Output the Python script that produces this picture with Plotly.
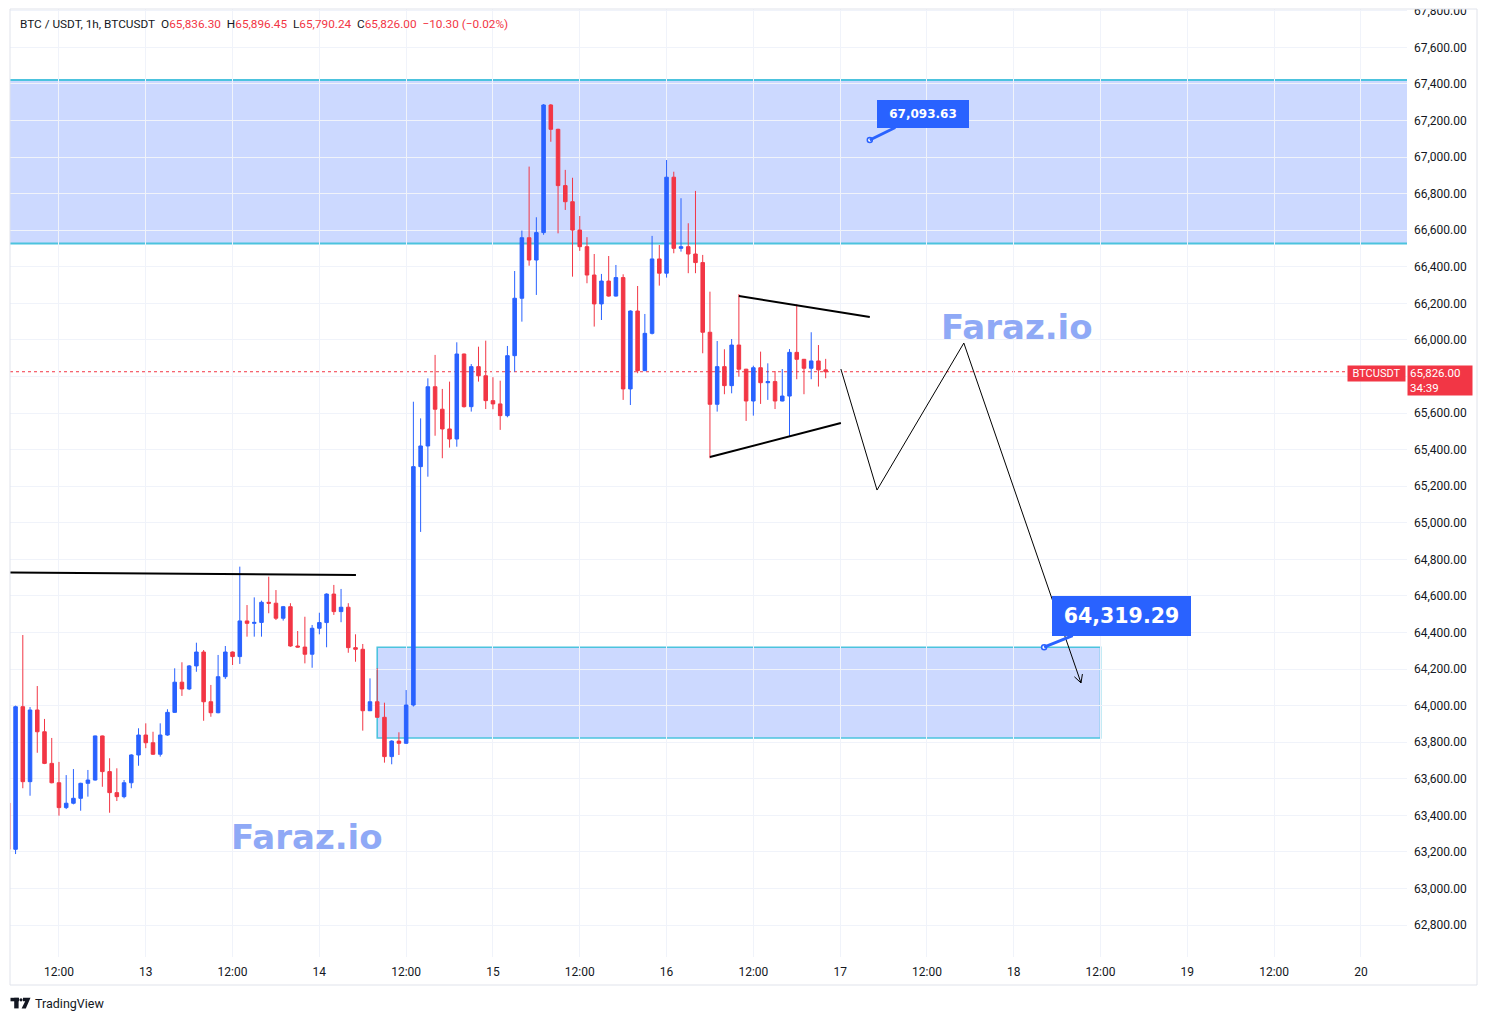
import plotly.graph_objects as go
import pandas as pd
import math

# ---------------- data (hourly BTCUSDT candles, 12th 05:00 -> 16th 22:00) ----------------
opens = [
    63467, 63214, 63994, 63584, 63976, 63857, 63684, 63578, 63442, 63466, 63493, 63575, 63593, 63834, 63639, 63524, 63502, 63578, 63730,
    63839, 63797, 63734, 63839, 63963, 64128, 64091, 64217, 64293, 64021, 63961, 64158, 64293, 64268, 64463, 64450, 64455, 64565, 64560, 64478, 64541, 64326, 64320, 64281,
    64423, 64454, 64610, 64514, 64538, 64317, 64308, 63972, 64021, 63936, 63721, 63806, 63794, 64003, 65307, 65420, 65744, 65621, 65513, 65458, 65923, 65635, 65854, 65804,
    65668, 65650, 65586, 65914, 66228, 66559, 66437, 66587, 67285, 67152, 66844, 66756, 66601, 66510, 66355, 66197, 66322, 66240, 66341, 65732, 66158, 65832, 66036, 66443,
    66365, 66890, 66501, 66510, 66470, 66423, 66042, 65648, 65854, 65750, 65972, 65840, 65666, 65848, 65766, 65772, 65666, 65693, 65932, 65894, 65845, 65885, 65836.30,
]
highs = [
    63480, 64000, 64386, 63992, 64107, 63927, 63823, 63692, 63620, 63653, 63578, 63648, 63836, 63836, 63712, 63657, 63593, 63734, 63876,
    63903, 63857, 63903, 63980, 64204, 64237, 64222, 64344, 64304, 64113, 64277, 64326, 64296, 64760, 64550, 64592, 64574, 64705, 64632, 64545, 64560, 64408, 64486, 64441,
    64508, 64614, 64660, 64638, 64560, 64390, 64337, 64149, 64204, 64016, 63810, 63854, 64085, 65662, 65571, 65790, 65918, 65732, 65772, 65987, 65925, 65868, 65963, 65996,
    65796, 65777, 65967, 66377, 66598, 66948, 66671, 67290, 67290, 67155, 66930, 66887, 66678, 66562, 66470, 66361, 66459, 66410, 66359, 66162, 66295, 66142, 66569, 66519,
    66984, 66920, 66775, 66638, 66815, 66465, 66264, 65994, 65949, 66005, 66250, 65842, 65859, 65936, 65872, 65830, 65841, 65950, 66195, 65896, 66042, 65972, 65896.45,
]
lows = [
    63200, 63188, 63548, 63507, 63742, 63680, 63575, 63398, 63434, 63460, 63425, 63502, 63590, 63556, 63414, 63478, 63493, 63548, 63671,
    63767, 63730, 63721, 63835, 63960, 64053, 64085, 64185, 63917, 63939, 63958, 64146, 64222, 64228, 64377, 64377, 64377, 64505, 64468, 64465, 64322, 64318, 64231, 64207,
    64390, 64319, 64496, 64456, 64289, 64240, 63863, 63970, 63934, 63688, 63679, 63730, 63790, 63995, 64950, 65252, 65476, 65353, 65411, 65416, 65630, 65608, 65772, 65622,
    65621, 65508, 65577, 65826, 66100, 66406, 66246, 66575, 67084, 66583, 66711, 66346, 66487, 66310, 66073, 66109, 66237, 66237, 65672, 65644, 65818, 65830, 66030, 66297,
    66341, 66474, 66483, 66365, 66365, 65927, 65353, 65608, 65703, 65708, 65799, 65557, 65586, 65650, 65672, 65622, 65664, 65471, 65785, 65703, 65785, 65745, 65790.24,
]
closes = [
    63214, 63994, 63584, 63976, 63857, 63684, 63578, 63442, 63466, 63493, 63575, 63593, 63834, 63639, 63524, 63502, 63578, 63730, 63839,
    63797, 63734, 63839, 63963, 64128, 64091, 64217, 64293, 64021, 63961, 64158, 64293, 64268, 64463, 64450, 64455, 64565, 64560, 64478, 64541, 64326, 64320, 64281, 64423,
    64454, 64610, 64514, 64538, 64317, 64308, 63972, 64021, 63936, 63721, 63806, 63794, 64003, 65307, 65420, 65744, 65621, 65513, 65458, 65923, 65635, 65854, 65804, 65668,
    65650, 65586, 65914, 66228, 66559, 66437, 66587, 67285, 67152, 66844, 66756, 66601, 66510, 66355, 66197, 66322, 66240, 66341, 65732, 66158, 65832, 66036, 66443, 66365,
    66890, 66501, 66510, 66470, 66423, 66042, 65648, 65854, 65750, 65972, 65840, 65666, 65848, 65766, 65772, 65666, 65693, 65932, 65894, 65845, 65885, 65836.30, 65826.00,
]
first_candle = "2024-06-12 05:00"

# x ticks (every 12h)
tick_hours = [0, 12, 24, 36, 48, 60, 72, 84, 96, 108, 120, 132, 144, 156, 168, 180]
tick_labels = ["12:00", "13", "12:00", "14", "12:00", "15", "12:00", "16", "12:00", "17",
               "12:00", "18", "12:00", "19", "12:00", "20"]
price_ticks = list(range(62800, 67801, 200))
hidden_tick = 65800  # covered by the last-price label on the price scale

# drawings (hours relative to 12th 12:00, prices)
resist_h = [-7.5, 41.06]
resist_p = [64728, 64714]
tri_upper_h = [94.0, 112.1]
tri_upper_p = [66240, 66126]
tri_lower_h = [90.0, 108.1]
tri_lower_p = [65360, 65546]
path_h = [108.1, 113.1, 125.1, 141.3]
path_p = [65841, 65179, 65983, 64124]
upper_zone_p = [66528, 67422]
lower_zone_h = [44, 144]
lower_zone_p = [63823, 64319.29]
target_hi_h, target_hi_p, target_hi_txt = 112.1, 67093.63, "67,093.63"
target_lo_h, target_lo_p, target_lo_txt = 136.2, 64319.29, "64,319.29"
last_price = 65826.00

BLUE = "#2962FF"
RED = "#F23645"
CYAN = "#4CC3DE"
FILL = "rgba(41,98,255,0.24)"
TXT = "#131722"
FONT = "Roboto"

# ---------------- axes geometry ----------------
BASE = pd.Timestamp("2024-06-12 12:00")
H0, H1 = -6.77, 186.37
P0, P1 = 62625, 67810
W, H = 1487, 1021
ML, MR, MT, MB = 10, 80, 9, 64
PW, PH = W - ML - MR, H - MT - MB


def T(h):
    return BASE + pd.Timedelta(hours=h)


def to_px(h, p):
    return ML + (h - H0) / (H1 - H0) * PW, MT + (P1 - p) / (P1 - P0) * PH


def from_px(x, y):
    return H0 + (x - ML) / PW * (H1 - H0), P1 - (y - MT) / PH * (P1 - P0)


def paper(x, y):
    return (x - ML) / PW, (MT + PH - y) / PH


times = pd.date_range(first_candle, periods=len(opens), freq="h")

fig = go.Figure()
fig.add_trace(go.Candlestick(
    x=times, open=opens, high=highs, low=lows, close=closes,
    increasing=dict(line=dict(color=BLUE, width=1), fillcolor=BLUE),
    decreasing=dict(line=dict(color=RED, width=1), fillcolor=RED),
    whiskerwidth=0, hoverinfo="skip", showlegend=False,
))

# drawing lines
for hs, ps, wd in [(resist_h, resist_p, 2), (tri_upper_h, tri_upper_p, 2),
                   (tri_lower_h, tri_lower_p, 2), (path_h, path_p, 1)]:
    fig.add_trace(go.Scatter(x=[T(h) for h in hs], y=ps, mode="lines",
                             line=dict(color="#000000", width=wd), hoverinfo="skip",
                             showlegend=False, cliponaxis=True))

# arrow head at end of path (open V)
ex, ey = to_px(path_h[-1], path_p[-1])
sx, sy = to_px(path_h[-2], path_p[-2])
ang = math.atan2(ey - sy, ex - sx)
for s in (1, -1):
    a = ang + math.pi - s * math.radians(28)
    hx, hy = ex + 9 * math.cos(a), ey + 9 * math.sin(a)
    hh, hp = from_px(hx, hy)
    fig.add_trace(go.Scatter(x=[T(path_h[-1]), T(hh)], y=[path_p[-1], hp], mode="lines",
                             line=dict(color="#000000", width=1), hoverinfo="skip",
                             showlegend=False))

# callout dots
fig.add_trace(go.Scatter(x=[T(target_hi_h), T(target_lo_h)], y=[target_hi_p, target_lo_p],
                         mode="markers", marker=dict(size=5, color="white",
                                                     line=dict(color=BLUE, width=1.5)),
                         hoverinfo="skip", showlegend=False))

shapes = []
# upper zone
shapes.append(dict(type="rect", xref="paper", yref="y", x0=0, x1=1,
                   y0=upper_zone_p[0], y1=upper_zone_p[1], fillcolor=FILL,
                   line=dict(width=0), layer="below"))
for p in upper_zone_p:
    shapes.append(dict(type="line", xref="paper", yref="y", x0=0, x1=1, y0=p, y1=p,
                       line=dict(color=CYAN, width=2), layer="below"))
# lower zone
shapes.append(dict(type="rect", xref="x", yref="y", x0=T(lower_zone_h[0]), x1=T(lower_zone_h[1]),
                   y0=lower_zone_p[0], y1=lower_zone_p[1], fillcolor=FILL,
                   line=dict(color=CYAN, width=1.6), layer="below"))
# last price line
shapes.append(dict(type="line", xref="paper", yref="y", x0=0, x1=1, y0=last_price, y1=last_price,
                   line=dict(color=RED, width=1, dash="dot"), layer="below"))
# cover top half of clipped top label
cx0, cy0 = paper(ML + PW, MT)
cx1, cy1 = paper(W, 0)
shapes.append(dict(type="rect", xref="paper", yref="paper", x0=cx0, x1=cx1, y0=cy0, y1=cy1,
                   fillcolor="white", line=dict(width=0), layer="above"))
# outer frame
fx0, fy0 = paper(ML, 985)
fx1, fy1 = paper(1477, MT)
shapes.append(dict(type="rect", xref="paper", yref="paper", x0=fx0, x1=fx1, y0=fy0, y1=fy1,
                   line=dict(color="#E0E3EB", width=1), layer="above"))
# TradingView logo
def rect_px(x0, y0, x1, y1):
    a, b = paper(x0, y0)
    c, d = paper(x1, y1)
    return dict(type="rect", xref="paper", yref="paper", x0=a, y0=b, x1=c, y1=d,
                fillcolor=TXT, line=dict(width=0), layer="above")
shapes.append(rect_px(10.5, 997.8, 19, 1001.3))
shapes.append(rect_px(14.2, 997.8, 18.6, 1008.4))
shapes.append(dict(type="circle", xref="paper", yref="paper",
                   x0=paper(19.4, 998)[0], x1=paper(22.6, 998)[0],
                   y0=paper(0, 1001.4)[1], y1=paper(0, 998.2)[1],
                   fillcolor=TXT, line=dict(width=0), layer="above"))
pts = [paper(*q) for q in [(23, 997.8), (30.5, 997.8), (25.8, 1008.4), (21.6, 1008.4), (25.2, 1001.3), (23, 1001.3)]]
path = "M " + " L ".join(f"{a},{b}" for a, b in pts) + " Z"
shapes.append(dict(type="path", xref="paper", yref="paper", path=path,
                   fillcolor=TXT, line=dict(width=0), layer="above"))

annotations = []
# header
sp = "\u00a0\u00a0"
hdr = (f"BTC / USDT, 1h, BTCUSDT{sp}"
       f"O<span style='color:{RED}'>65,836.30</span>{sp}"
       f"H<span style='color:{RED}'>65,896.45</span>{sp}"
       f"L<span style='color:{RED}'>65,790.24</span>{sp}"
       f"C<span style='color:{RED}'>65,826.00</span>{sp}"
       f"<span style='color:{RED}'>\u221210.30 (\u22120.02%)</span>")
hx, hy = paper(18, 24)
annotations.append(dict(xref="paper", yref="paper", x=hx, y=hy, text=hdr, showarrow=False,
                        xanchor="left", yanchor="middle", font=dict(family=FONT, size=11.8, color=TXT)))
# watermarks
for (px, py) in [(1017, 327), (307, 837)]:
    wx, wy = paper(px, py)
    annotations.append(dict(xref="paper", yref="paper", x=wx, y=wy, text="<b>Faraz.io</b>",
                            showarrow=False, xanchor="center", yanchor="middle",
                            font=dict(family="DejaVu Sans", size=34, color="#8FA9F6")))
# callouts
annotations.append(dict(x=T(target_hi_h), y=target_hi_p, xref="x", yref="y",
                        text=f"<b>{target_hi_txt}</b>", showarrow=True, arrowhead=0,
                        arrowwidth=3, arrowcolor=BLUE, ax=53, ay=-26,
                        bgcolor=BLUE, bordercolor=BLUE, borderpad=5, width=80, height=16,
                        font=dict(family="DejaVu Sans", size=12, color="white")))
annotations.append(dict(x=T(target_lo_h), y=target_lo_p, xref="x", yref="y",
                        text=f"<b>{target_lo_txt}</b>", showarrow=True, arrowhead=0,
                        arrowwidth=3, arrowcolor=BLUE, ax=77, ay=-31,
                        bgcolor=BLUE, bordercolor=BLUE, borderpad=5, width=127, height=28,
                        font=dict(family="DejaVu Sans", size=20.5, color="white")))
# price scale labels
bx, by = paper(1376.5, 373.5)
annotations.append(dict(xref="paper", yref="paper", x=bx, y=by, text="BTCUSDT", showarrow=False,
                        xanchor="center", yanchor="middle",
                        bgcolor=RED, borderpad=2, width=53, height=11,
                        font=dict(family=FONT, size=11, color="white")))
vx, vy = paper(1440, 380.5)
annotations.append(dict(xref="paper", yref="paper", x=vx, y=vy,
                        text="65,826.00<br>34:39", showarrow=False, align="left",
                        xanchor="center", yanchor="middle",
                        bgcolor=RED, borderpad=2, width=60, height=25,
                        font=dict(family=FONT, size=11.5, color="white")))
# TradingView text
tx, ty = paper(33, 1003)
annotations.append(dict(xref="paper", yref="paper", x=tx, y=ty, text="TradingView", showarrow=False,
                        xanchor="left", yanchor="middle", font=dict(family=FONT, size=12.5, color=TXT)))

price_text = ["" if v == hidden_tick else f"{v:,.2f}" for v in price_ticks]

fig.update_layout(
    width=W, height=H,
    margin=dict(l=ML, r=MR, t=MT, b=MB, autoexpand=False),
    paper_bgcolor="white", plot_bgcolor="white",
    showlegend=False, hovermode=False, dragmode=False,
    shapes=shapes, annotations=annotations,
    font=dict(family=FONT, size=11, color=TXT),
    xaxis=dict(range=[T(H0), T(H1)], rangeslider=dict(visible=False), automargin=False,
               tickmode="array", tickvals=[T(h) for h in tick_hours], ticktext=tick_labels,
               showgrid=True, gridcolor="#F0F3FA", gridwidth=1, zeroline=False,
               showline=False, ticks="", ticklabelstandoff=6,
               tickfont=dict(family=FONT, size=12, color=TXT)),
    yaxis=dict(range=[P0, P1], side="right", tickmode="array", tickvals=price_ticks, automargin=False,
               ticktext=price_text,
               showgrid=True, gridcolor="#F0F3FA", gridwidth=1, zeroline=False,
               showline=False, ticks="", ticklabelstandoff=6,
               tickfont=dict(family=FONT, size=12, color=TXT)),
)

fig.write_html("out.html")
